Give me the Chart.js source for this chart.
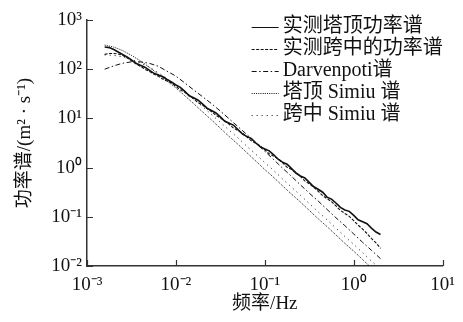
<!DOCTYPE html>
<html>
<head>
<meta charset="utf-8">
<script src="https://cdn.jsdelivr.net/npm/chart.js@4/dist/chart.umd.min.js"></script>
<style>
  html, body { margin: 0; padding: 0; background: #fff; }
</style>
</head>
<body>
<canvas id="psdCanvas" width="463" height="322"></canvas>
<script>
// frequencies (Hz) of the two measured spectra, 20 per decade
const measFreq = [
  0.00158, 0.00178, 0.002, 0.00224, 0.00251, 0.00282, 0.00316, 0.00355, 0.00398, 0.00447, 0.00501, 0.00562, 0.00631, 0.00708, 0.00794, 0.00891,
  0.01, 0.0112, 0.0126, 0.0141, 0.0158, 0.0178, 0.02, 0.0224, 0.0251, 0.0282, 0.0316, 0.0355, 0.0398, 0.0447, 0.0501, 0.0562, 0.0631, 0.0708, 0.0794, 0.0891,
  0.1, 0.112, 0.126, 0.141, 0.158, 0.178, 0.2, 0.224, 0.251, 0.282, 0.316, 0.355, 0.398, 0.447, 0.501, 0.562, 0.631, 0.708, 0.794, 0.891,
  1, 1.12, 1.26, 1.41, 1.58, 1.78, 2.0];

const towerMeasured = [
  282, 275, 251, 224, 200, 178, 155, 132, 120, 110, 95.5, 83.2, 75.9, 70.8, 61.7, 55.0,
  47.9, 42.7, 35.5, 28.8, 26.3, 23.4, 19.5, 16.2, 14.5, 12.9, 10.7, 8.71, 7.94, 7.24, 5.89, 4.79, 4.27, 3.89, 3.16, 2.63,
  2.40, 2.19, 1.82, 1.48, 1.29, 1.17, 0.955, 0.776, 0.676, 0.617, 0.501, 0.407, 0.363, 0.316, 0.251, 0.229, 0.191, 0.155, 0.138, 0.129,
  0.107, 0.0871, 0.0794, 0.0724, 0.0589, 0.0490, 0.0437];
const spanMeasured = [
  200, 209, 209, 204, 191, 170, 148, 129, 115, 100, 91.2, 79.4, 72.4, 63.1, 57.5, 52.5,
  44.7, 38.0, 33.9, 29.5, 25.1, 20.9, 18.6, 15.8, 13.8, 11.5, 10.2, 8.91, 7.59, 6.31, 5.62, 5.01, 4.17, 3.47, 3.09, 2.75,
  2.29, 1.91, 1.70, 1.51, 1.26, 1.02, 0.912, 0.794, 0.661, 0.537, 0.468, 0.398, 0.331, 0.269, 0.234, 0.204, 0.166, 0.135, 0.117, 0.102,
  0.0832, 0.0676, 0.0562, 0.0457, 0.0363, 0.0295, 0.0229];

// frequencies (Hz) of the model spectra, 10 per decade
const modelFreq = [0.00158, 0.002, 0.00251, 0.00316, 0.00398, 0.00501, 0.00631, 0.00794,
  0.01, 0.0126, 0.0158, 0.02, 0.0251, 0.0316, 0.0398, 0.0501, 0.0631, 0.0794,
  0.1, 0.126, 0.158, 0.2, 0.251, 0.316, 0.398, 0.501, 0.631, 0.794,
  1, 1.26, 1.58, 2.0];

const davenport = [100, 117, 132, 141, 141, 132, 115, 91.2, 72.4, 52.5, 38.0, 27.5, 20.0, 14.1,
  9.77, 6.76, 4.68, 3.16, 2.14, 1.45, 0.977, 0.661, 0.447, 0.302, 0.209, 0.141, 0.0955, 0.0661, 0.0447, 0.0302, 0.0209, 0.0141];
const towerSimiu = [309, 282, 240, 191, 148, 110, 79.4, 57.5, 41.7, 28.8, 20.0, 13.5, 9.33, 6.31,
  4.27, 2.95, 2.00, 1.35, 0.912, 0.631, 0.427, 0.288, 0.200, 0.135, 0.0912, 0.0631, 0.0427, 0.0288, 0.0200, 0.0135, 0.00912, 0.00631];
const spanSimiu = [195, 191, 178, 158, 135, 110, 85.1, 64.6, 47.9, 34.7, 24.5, 17.4, 12.0, 8.32,
  5.75, 3.98, 2.69, 1.86, 1.26, 0.871, 0.589, 0.398, 0.275, 0.186, 0.126, 0.0871, 0.0589, 0.0398, 0.0275, 0.0186, 0.0126, 0.00871];

const seriesLabels = ["实测塔顶功率谱", "实测跨中的功率谱", "Darvenpoti谱", "塔顶 Simiu 谱", "跨中 Simiu 谱"];

const xTickValues = [0.001, 0.01, 0.1, 1, 10];
const xTickLabels = ["10⁻³", "10⁻²", "10⁻¹", "10⁰", "10¹"];
const yTickValues = [0.01, 0.1, 1, 10, 100, 1000];
const yTickLabels = ["10⁻²", "10⁻¹", "10⁰", "10¹", "10²", "10³"];

const INK = "#111";
const AXIS = "#333";
const SERIF = "'Liberation Serif', 'Times New Roman', 'Noto Sans CJK SC', serif";

const pts = (xs, vals) => xs.map((f, i) => ({ x: f, y: vals[i] }));

// ticks in this figure point into the plot
const inwardTicks = {
  id: "inwardTicks",
  afterDraw(chart) {
    const { ctx, chartArea: a, scales: { x, y } } = chart;
    ctx.save();
    ctx.strokeStyle = AXIS;
    ctx.lineWidth = 1.2;
    ctx.beginPath();
    xTickValues.forEach(v => {
      const px = Math.round(x.getPixelForValue(v)) + 0.5;
      ctx.moveTo(px, a.bottom);
      ctx.lineTo(px, a.bottom - 6);
    });
    yTickValues.forEach(v => {
      const py = Math.round(y.getPixelForValue(v)) + 0.5;
      ctx.moveTo(a.left, py);
      ctx.lineTo(a.left + 6, py);
    });
    ctx.stroke();
    ctx.restore();
  }
};

// legend sits inside the plot, top right
const insideLegend = {
  id: "insideLegend",
  afterDraw(chart) {
    const { ctx, chartArea: a } = chart;
    const x0 = a.right - 191, x1 = a.right - 164, tx = a.right - 160;
    ctx.save();
    ctx.font = "20px " + SERIF;
    ctx.textBaseline = "middle";
    chart.data.datasets.forEach((ds, i) => {
      const y = a.top + 7 + i * 22;
      ctx.strokeStyle = ds.borderColor;
      ctx.lineWidth = 1;
      ctx.setLineDash(ds.borderDash || []);
      ctx.beginPath();
      ctx.moveTo(x0, y + 0.5);
      ctx.lineTo(x1, y + 0.5);
      ctx.stroke();
      ctx.setLineDash([]);
      ctx.fillStyle = INK;
      ctx.fillText(ds.label, tx, y);
    });
    ctx.restore();
  }
};

const lineBase = { pointRadius: 0, tension: 0, fill: false, borderColor: INK };

new Chart(document.getElementById("psdCanvas"), {
  type: "line",
  data: {
    datasets: [
      { ...lineBase, label: seriesLabels[0], data: pts(measFreq, towerMeasured), borderWidth: 1.6 },
      { ...lineBase, label: seriesLabels[1], data: pts(measFreq, spanMeasured), borderWidth: 1.1, borderDash: [3, 1.5] },
      { ...lineBase, label: seriesLabels[2], data: pts(modelFreq, davenport), borderWidth: 1, borderDash: [5, 2.5, 1.5, 2.5] },
      { ...lineBase, label: seriesLabels[3], data: pts(modelFreq, towerSimiu), borderWidth: 1, borderDash: [1, 1.2] },
      { ...lineBase, label: seriesLabels[4], data: pts(modelFreq, spanSimiu), borderWidth: 1, borderDash: [1, 4] },
    ],
  },
  options: {
    responsive: false,
    animation: false,
    devicePixelRatio: 1,
    layout: { padding: { top: 20, right: 20, left: 0, bottom: 0 } },
    plugins: { legend: { display: false }, tooltip: { enabled: false } },
    scales: {
      x: {
        type: "logarithmic",
        min: 0.001,
        max: 10,
        afterBuildTicks: s => { s.ticks = xTickValues.map(v => ({ value: v })); },
        afterFit: s => { s.height = 56; },
        grid: { display: true, drawOnChartArea: false, drawTicks: false },
        border: { display: true, color: AXIS, width: 1.5 },
        ticks: {
          autoSkip: false, maxRotation: 0, padding: 8, color: INK,
          font: { family: SERIF, size: 19 },
          callback: (v, i) => xTickLabels[i],
        },
        title: {
          display: true, text: "频率/Hz", color: INK,
          font: { family: SERIF, size: 19 }, padding: { top: 0, bottom: 7 },
        },
      },
      y: {
        type: "logarithmic",
        min: 0.01,
        max: 1000,
        afterBuildTicks: s => { s.ticks = yTickValues.map(v => ({ value: v })); },
        afterFit: s => { s.width = 87; },
        grid: { display: true, drawOnChartArea: false, drawTicks: false },
        border: { display: true, color: AXIS, width: 1.5 },
        ticks: {
          autoSkip: false, padding: 5, color: INK,
          font: { family: SERIF, size: 19 },
          callback: (v, i) => yTickLabels[i],
        },
        title: {
          display: true, text: "功率谱/(m² · s⁻¹)", color: INK,
          font: { family: SERIF, size: 19 }, padding: { top: 14, bottom: 0 },
        },
      },
    },
  },
  plugins: [inwardTicks, insideLegend],
});
</script>
</body>
</html>
